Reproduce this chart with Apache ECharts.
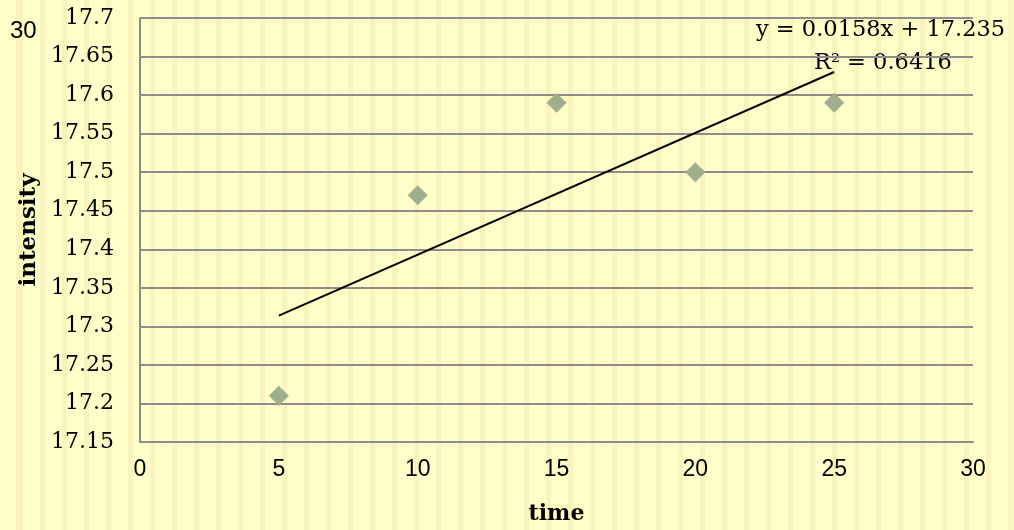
<!DOCTYPE html>
<html>
<head>
<meta charset="utf-8">
<script src="https://cdn.jsdelivr.net/npm/echarts@6/dist/echarts.min.js"></script>
<style>
html,body{margin:0;padding:0;}
body{
  width:1014px;height:530px;
  background-color:#FFFDC8;
  background-image:repeating-linear-gradient(90deg,#FAF4BC 0px,#FAF4BC 5px,#FFFDC8 5px,#FFFDC8 22px);
  background-position:18px 0;
}
#chart{width:1014px;height:530px;}
</style>
</head>
<body>
<div id="chart"></div>
<script>
// ---- data ----
const timeValues = [5, 10, 15, 20, 25];
const intensityValues = [17.21, 17.47, 17.59, 17.50, 17.59];
const trendX = [5, 25];
const trendY = [17.314, 17.630];
const equationText = 'y = 0.0158x + 17.235';
const r2Text = 'R² = 0.6416';
const strayLabel = '30';
const xTitle = 'time';
const yTitle = 'intensity';

const points = timeValues.map((t, i) => [t, intensityValues[i]]);
const trend = trendX.map((t, i) => [t, trendY[i]]);

const chart = echarts.init(document.getElementById('chart'), null, {renderer: 'canvas'});
const serif = '"DejaVu Serif", serif';
const sans = '"Liberation Sans", Arial, sans-serif';

chart.setOption({
  backgroundColor: 'transparent',
  animation: false,
  grid: {left: 140, right: 41, top: 18, bottom: 86, containLabel: false},
  xAxis: {
    type: 'value', min: 0, max: 30, interval: 5,
    name: xTitle, nameLocation: 'middle', nameGap: 61,
    nameTextStyle: {fontFamily: serif, fontWeight: 'bold', fontSize: 22, color: '#000'},
    axisLine: {show: true, onZero: false, lineStyle: {color: '#8c8c8c', width: 2}},
    axisTick: {show: false},
    splitLine: {show: false},
    axisLabel: {fontFamily: sans, fontSize: 23, color: '#000', margin: 16}
  },
  yAxis: {
    type: 'value', min: 17.15, max: 17.7, interval: 0.05,
    name: yTitle, nameLocation: 'middle', nameGap: 95, nameRotate: 90,
    nameTextStyle: {fontFamily: serif, fontWeight: 'bold', fontSize: 23, color: '#000'},
    axisLine: {show: true, lineStyle: {color: '#8c8c8c', width: 2}},
    axisTick: {show: false},
    splitLine: {show: true, lineStyle: {color: '#8c8c8c', width: 2}},
    axisLabel: {
      fontFamily: serif, fontSize: 22, color: '#000', margin: 26,
      formatter: v => String(+v.toFixed(2))
    }
  },
  series: [
    {
      type: 'line', data: trend, showSymbol: false, symbol: 'none',
      lineStyle: {color: '#000', width: 2}, z: 3, silent: true
    },
    {
      type: 'scatter', data: points, symbol: 'diamond', symbolSize: 20,
      itemStyle: {color: '#9FAE8C', opacity: 1}, z: 4
    }
  ],
  graphic: [
    {type: 'text', left: 756, top: 19, style: {text: equationText, font: '22.5px ' + serif, fill: '#000'}},
    {type: 'text', left: 814, top: 52, style: {text: r2Text, font: '22.5px ' + serif, fill: '#000'}},
    {type: 'text', left: 10, top: 19, style: {text: strayLabel, font: '24px ' + sans, fill: '#000'}}
  ]
});
</script>
</body>
</html>
